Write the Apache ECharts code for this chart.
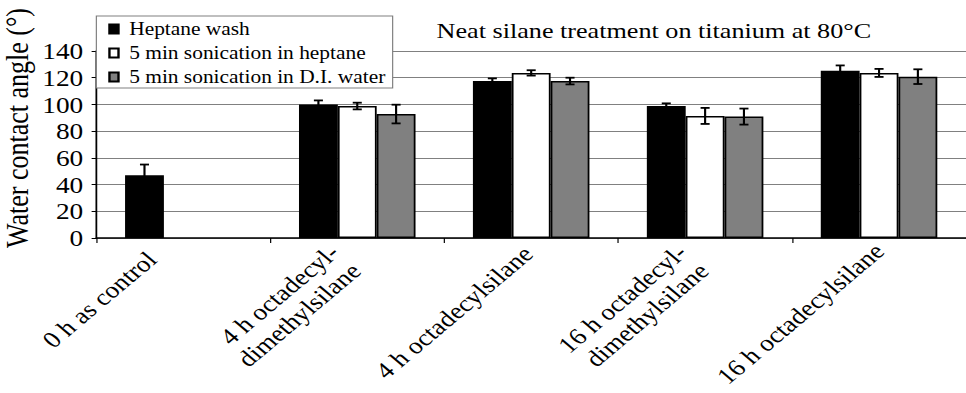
<!DOCTYPE html>
<html>
<head>
<meta charset="utf-8">
<script src="https://cdn.jsdelivr.net/npm/echarts@6/dist/echarts.min.js"></script>
<style>
html, body { margin: 0; padding: 0; background: #fff; overflow: hidden; }
#wrap { width: 966px; height: 393px; overflow: hidden; }
#chart { width: 812px; height: 393px; transform: scaleX(1.18966); transform-origin: 0 0; }
</style>
</head>
<body>
<div id="wrap"><div id="chart"></div></div>
<script>
var categories = ['0 h as control', '4 h octadecyl-\ndimethylsilane', '4 h octadecylsilane', '16 h octadecyl-\ndimethylsilane', '16 h octadecylsilane'];
var seriesNames = ['Heptane wash', '5 min sonication in heptane', '5 min sonication in D.I. water'];
var heptaneWash = [47, 100, 117.5, 98.8, 125.2];
var heptaneWashErr = [8, 3, 2, 2, 4];
var sonicHeptane = [null, 98.8, 123.6, 91.4, 123.6];
var sonicHeptaneErr = [null, 2.5, 2, 6, 3];
var sonicWater = [null, 92.8, 117.5, 90.9, 120.8];
var sonicWaterErr = [null, 7, 2.5, 6, 5.5];
var yTicks = { min: 0, max: 140, interval: 20 };
var titleText = 'Neat silane treatment on titanium at 80°C';
var yAxisTitle = 'Water contact angle (°)';

var FONT = 'Liberation Serif';
var colors = ['#000000', '#ffffff', '#808080'];
var values = [heptaneWash, sonicHeptane, sonicWater];
var errs = [heptaneWashErr, sonicHeptaneErr, sonicWaterErr];
var GAP = 0.33;

// per-label nudges in the rotated label frame
var labelStyles = [
  { padding: [0, 25, 0, 0], verticalAlign: 'bottom' },
  { padding: [0, 15, 0, 0] },
  { padding: [0, 4, 0, 0] },
  { padding: [0, 15, 0, 0] },
  { padding: [0, 0, 0, 0] }
];
var xData = categories.map(function (c, k) {
  return { value: c, textStyle: labelStyles[k] };
});

var series = [];
values.forEach(function (vals, i) {
  series.push({
    name: seriesNames[i],
    type: 'bar',
    data: vals,
    barGap: '0%',
    barCategoryGap: (GAP * 100) + '%',
    itemStyle: { color: colors[i], borderColor: '#000', borderWidth: 1.5 },
    emphasis: { disabled: true },
    z: 2
  });
});
values.forEach(function (vals, i) {
  var data = [];
  vals.forEach(function (v, k) {
    if (v != null && errs[i][k] != null) data.push([k, v - errs[i][k], v + errs[i][k]]);
  });
  series.push({
    name: 'err' + i,
    type: 'custom',
    z: 5,
    silent: true,
    data: data,
    encode: { x: 0, y: [1, 2] },
    renderItem: function (params, api) {
      var x = api.value(0);
      var lo = api.coord([x, api.value(1)]);
      var hi = api.coord([x, api.value(2)]);
      var band = api.size([1, 0])[0];
      var bw = band * (1 - GAP) / 3;
      var cx = lo[0] + (i - 1) * bw;
      var cap = 3.8;
      var st = { stroke: '#000', lineWidth: 1.8 };
      return {
        type: 'group',
        children: [
          { type: 'line', shape: { x1: cx, y1: lo[1], x2: cx, y2: hi[1] }, style: st },
          { type: 'line', shape: { x1: cx - cap, y1: lo[1], x2: cx + cap, y2: lo[1] }, style: st },
          { type: 'line', shape: { x1: cx - cap, y1: hi[1], x2: cx + cap, y2: hi[1] }, style: st }
        ]
      };
    }
  });
});

var chart = echarts.init(document.getElementById('chart'), null, { renderer: 'svg' });
chart.setOption({
  animation: false,
  backgroundColor: '#fff',
  textStyle: { fontFamily: FONT, color: '#000' },
  title: {
    text: titleText,
    left: 367,
    top: 19,
    padding: 0,
    textStyle: { fontFamily: FONT, fontSize: 22, fontWeight: 'normal', color: '#000' }
  },
  legend: {
    data: seriesNames,
    orient: 'vertical',
    left: 81,
    top: 16,
    padding: [4, 6, 2, 10],
    itemGap: 6,
    itemWidth: 7.6,
    itemHeight: 9,
    icon: 'rect',
    backgroundColor: '#fff',
    borderColor: '#808080',
    borderWidth: 1,
    selectedMode: false,
    z: 10,
    textStyle: { fontFamily: FONT, fontSize: 18, color: '#000', lineHeight: 18, padding: [0, 0, 0, 4] }
  },
  grid: { left: 81, right: 0, top: 51, bottom: 155, containLabel: false, outerBoundsMode: 'none' },
  xAxis: {
    type: 'category',
    data: xData,
    axisLine: { lineStyle: { color: '#000', width: 1.5 } },
    axisTick: { show: true, length: 5, lineStyle: { color: '#000', width: 1 } },
    axisLabel: { interval: 0, rotate: 45, margin: 9, fontFamily: FONT, fontSize: 23, color: '#000', lineHeight: 26 },
    splitLine: { show: false }
  },
  yAxis: {
    type: 'value',
    min: yTicks.min,
    max: yTicks.max,
    interval: yTicks.interval,
    axisLine: { show: true, lineStyle: { color: '#000', width: 1.5 } },
    axisTick: { show: true, length: 4, lineStyle: { color: '#000', width: 1 } },
    axisLabel: { margin: 11, fontFamily: FONT, fontSize: 23, color: '#000' },
    splitLine: { show: true, lineStyle: { color: '#808080', width: 1 } }
  },
  graphic: [{
    type: 'text',
    x: 14.5,
    y: 128,
    rotation: Math.PI / 2,
    style: {
      text: yAxisTitle,
      fontFamily: FONT,
      fontSize: 26,
      fill: '#000',
      align: 'center',
      verticalAlign: 'middle'
    }
  }],
  series: series
});
</script>
</body>
</html>
